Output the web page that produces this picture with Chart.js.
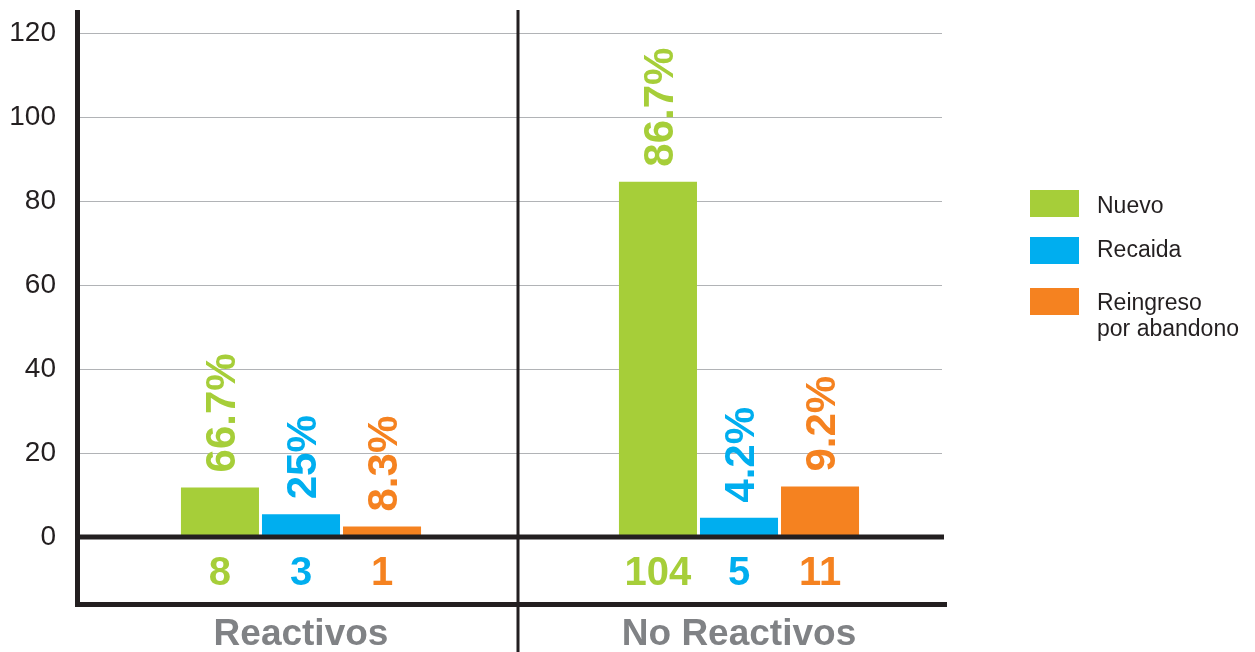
<!DOCTYPE html>
<html><head><meta charset="utf-8">
<script src="https://cdn.jsdelivr.net/npm/chart.js@4/dist/chart.umd.min.js"></script>
<style>html,body{margin:0;padding:0;background:#fff;}#wrap{width:1255px;height:652px;position:relative}</style>
</head><body><div id="wrap"><canvas id="c" width="1255" height="652"></canvas></div>
<script>
const categories = ['Reactivos', 'No Reactivos'];
const seriesNames = ['Nuevo', 'Recaida', 'Reingreso por abandono'];
const legendLines = [['Nuevo'], ['Recaida'], ['Reingreso', 'por abandono']];
const nuevo = [11.8, 84.6];
const recaida = [5.4, 4.6];
const reingreso = [2.5, 12];
const countsNuevo = ['8', '104'];
const countsRecaida = ['3', '5'];
const countsReingreso = ['1', '11'];
const pctNuevo = ['66.7%', '86.7%'];
const pctRecaida = ['25%', '4.2%'];
const pctReingreso = ['8.3%', '9.2%'];
const yTicks = [0, 20, 40, 60, 80, 100, 120];
const colors = ['#a6ce39', '#00aeef', '#f58220'];

const counts = [countsNuevo, countsRecaida, countsReingreso];
const pcts = [pctNuevo, pctRecaida, pctReingreso];
const FONT = '"Liberation Sans", Arial, sans-serif';

function line(ctx, x1, y1, x2, y2) { ctx.beginPath(); ctx.moveTo(x1, y1); ctx.lineTo(x2, y2); ctx.stroke(); }

const overlay = {
  id: 'overlay',
  beforeDatasetsDraw(chart) {
    const { ctx, scales: { y } } = chart;
    ctx.save();
    ctx.strokeStyle = '#b1b3b6'; ctx.lineWidth = 1;
    yTicks.forEach(v => {
      if (v === 0) return;
      const py = Math.round(y.getPixelForValue(v)) + 0.5;
      line(ctx, 80, py, 942, py);
    });
    ctx.restore();
  },
  afterDatasetsDraw(chart) {
    const { ctx, scales: { x, y } } = chart;
    const base = y.getPixelForValue(0);
    ctx.save();
    ctx.strokeStyle = '#231f20';
    ctx.lineWidth = 5;
    line(ctx, 77.5, 10, 77.5, 607);
    line(ctx, 75, base, 944, base);
    line(ctx, 75, 604.5, 947, 604.5);
    ctx.lineWidth = 3;
    const mid = (x.getPixelForValue(0) + x.getPixelForValue(1)) / 2;
    line(ctx, mid - 2, 10, mid - 2, 652);

    for (let i = 0; i < 3; i++) {
      const meta = chart.getDatasetMeta(i);
      meta.data.forEach((el, j) => {
        ctx.fillStyle = colors[i];
        ctx.font = 'bold 42px ' + FONT;
        ctx.save();
        ctx.translate(el.x, el.y - 15);
        ctx.rotate(-Math.PI / 2);
        ctx.textAlign = 'left'; ctx.textBaseline = 'alphabetic';
        ctx.fillText(pcts[i][j], 0, 0.358 * 42);
        ctx.restore();
        ctx.font = 'bold 40px ' + FONT;
        ctx.textAlign = 'center'; ctx.textBaseline = 'alphabetic';
        ctx.fillText(counts[i][j], el.x, 585);
      });
    }
    ctx.fillStyle = '#808285';
    ctx.font = 'bold 37px ' + FONT;
    ctx.textAlign = 'center'; ctx.textBaseline = 'alphabetic';
    categories.forEach((c, j) => ctx.fillText(c, x.getPixelForValue(j), 645));

    const sqY = [190, 237, 288];
    const txtY = [213, 257, 310];
    ctx.textAlign = 'left';
    ctx.font = '23px ' + FONT;
    for (let i = 0; i < 3; i++) {
      ctx.fillStyle = colors[i];
      ctx.fillRect(1030, sqY[i], 49, 27);
      ctx.fillStyle = '#231f20';
      legendLines[i].forEach((t, k) => ctx.fillText(t, 1097, txtY[i] + k * 26));
    }
    ctx.restore();
  }
};

new Chart(document.getElementById('c'), {
  type: 'bar',
  data: {
    labels: categories,
    datasets: [
      { label: seriesNames[0], data: nuevo, backgroundColor: colors[0] },
      { label: seriesNames[1], data: recaida, backgroundColor: colors[1] },
      { label: seriesNames[2], data: reingreso, backgroundColor: colors[2] }
    ]
  },
  options: {
    responsive: false,
    animation: false,
    devicePixelRatio: 1,
    categoryPercentage: 0.555,
    barPercentage: 0.963,
    layout: { padding: { top: 33, bottom: 115, left: 0, right: 297 } },
    plugins: { legend: { display: false }, tooltip: { enabled: false } },
    scales: {
      x: { display: false },
      y: {
        min: 0, max: 120,
        afterBuildTicks: s => { s.ticks = yTicks.map(v => ({ value: v })); },
        afterFit: s => { s.width = 82; },
        grid: { display: false, drawTicks: false },
        border: { display: false },
        ticks: { font: { family: FONT, size: 28, lineHeight: 0.2 }, color: '#231f20', padding: 26 }
      }
    }
  },
  plugins: [overlay]
});
</script></body></html>
